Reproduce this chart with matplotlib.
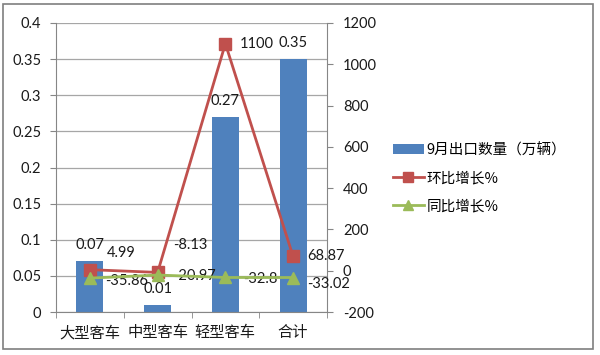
import matplotlib
matplotlib.use("Agg")
import matplotlib.pyplot as plt
from matplotlib.patches import Rectangle, Patch
from matplotlib.lines import Line2D

plt.rcParams['font.family'] = ['Lato', 'Noto Sans CJK SC', 'DejaVu Sans']

categories = ["大型客车", "中型客车", "轻型客车", "合计"]
export_qty = [0.07, 0.01, 0.27, 0.35]
mom_growth = [4.99, -8.13, 1100, 68.87]
yoy_growth = [-35.86, -20.97, -32.8, -33.02]
left_ticks = [0, 0.05, 0.1, 0.15, 0.2, 0.25, 0.3, 0.35, 0.4]
right_ticks = [-200, 0, 200, 400, 600, 800, 1000, 1200]
series_names = ["9月出口数量（万辆）", "环比增长%", "同比增长%"]

blue = "#4F81BD"
red = "#C0504D"
green = "#9BBB59"
gray = "#868686"
txt = "#1a1a1a"
cjk = ['Noto Sans CJK SC', 'DejaVu Sans']

fig = plt.figure(figsize=(6, 3.55), dpi=100)
fig.patches.append(Rectangle((3/600, 1-349/355), 590/600, 345/355, transform=fig.transFigure,
                             fill=False, edgecolor="#7f7f7f", linewidth=1.2))

ax = fig.add_axes([56/600, 1-312/355, 271/600, 289/355])
x = list(range(len(categories)))
ax.bar(x, export_qty, width=0.4, color=blue, zorder=2)
ax.set_xlim(-0.5, len(categories)-0.5)
ax.set_ylim(0, 0.4)
ax.set_yticks(left_ticks)
ax.set_yticklabels([f"{t:g}" for t in left_ticks], fontsize=10.5, color=txt)
ax.set_xticks(x)
ax.set_xticklabels(categories, fontsize=11, family=cjk, color=txt)
ax.set_xticks([-0.5, 0.5, 1.5, 2.5, 3.5], minor=True)
ax.tick_params(axis='x', which='major', length=0, pad=9)
ax.tick_params(axis='x', which='minor', length=4.5, color=gray, direction='out')
ax.tick_params(axis='y', length=4.5, color=gray, direction='out', pad=6)
ax.grid(axis='y', color="#a6a6a6", linewidth=0.9, zorder=0)
ax.set_axisbelow(True)
for s in ['top', 'right']:
    ax.spines[s].set_visible(False)
for s in ['left', 'bottom']:
    ax.spines[s].set_color(gray)
for xi, v in zip(x, export_qty):
    ax.annotate(f"{v:g}", (xi, v), xytext=(0, 6.5), textcoords="offset points",
                ha='center', va='bottom', fontsize=10.5, color=txt)

ax2 = ax.twinx()
ax2.set_ylim(-200, 1200)
ax2.set_yticks(right_ticks)
ax2.set_yticklabels([f"{t:g}" for t in right_ticks], fontsize=10.5, color=txt)
ax2.tick_params(axis='y', length=4.5, color=gray, direction='out', pad=7)
for s in ['top', 'left', 'bottom']:
    ax2.spines[s].set_visible(False)
ax2.spines['right'].set_color(gray)

ax2.plot(x, mom_growth, color=red, linewidth=2, marker='s', markersize=8, zorder=3)
ax2.plot(x, yoy_growth, color=green, linewidth=2, marker='^', markersize=9, zorder=4)

mom_offsets = [(12, 12), (11, 20), (10, 0), (10, 0)]
for xi, v, off in zip(x, mom_growth, mom_offsets):
    ax2.annotate(f"{v:g}", (xi, v), xytext=off, textcoords="offset points",
                 ha='left', va='center', fontsize=10.5, color=txt)
yoy_offsets = [(11, -2), (11, -1), (13, -1), (10, -5)]
for xi, v, off in zip(x, yoy_growth, yoy_offsets):
    ax2.annotate(f"{v:g}", (xi, v), xytext=off, textcoords="offset points",
                 ha='left', va='center', fontsize=10.5, color=txt)

handles = [Patch(facecolor=blue),
           Line2D([], [], color=red, linewidth=2, marker='s', markersize=7),
           Line2D([], [], color=green, linewidth=2, marker='^', markersize=7)]
fig.legend(handles, series_names, loc='upper left', bbox_to_anchor=(380/600, 1-130/355),
           frameon=False, prop={'family': cjk, 'size': 10.5}, handlelength=2.1,
           handletextpad=0.2, labelspacing=0.95)

fig.savefig("out.png", dpi=100)
